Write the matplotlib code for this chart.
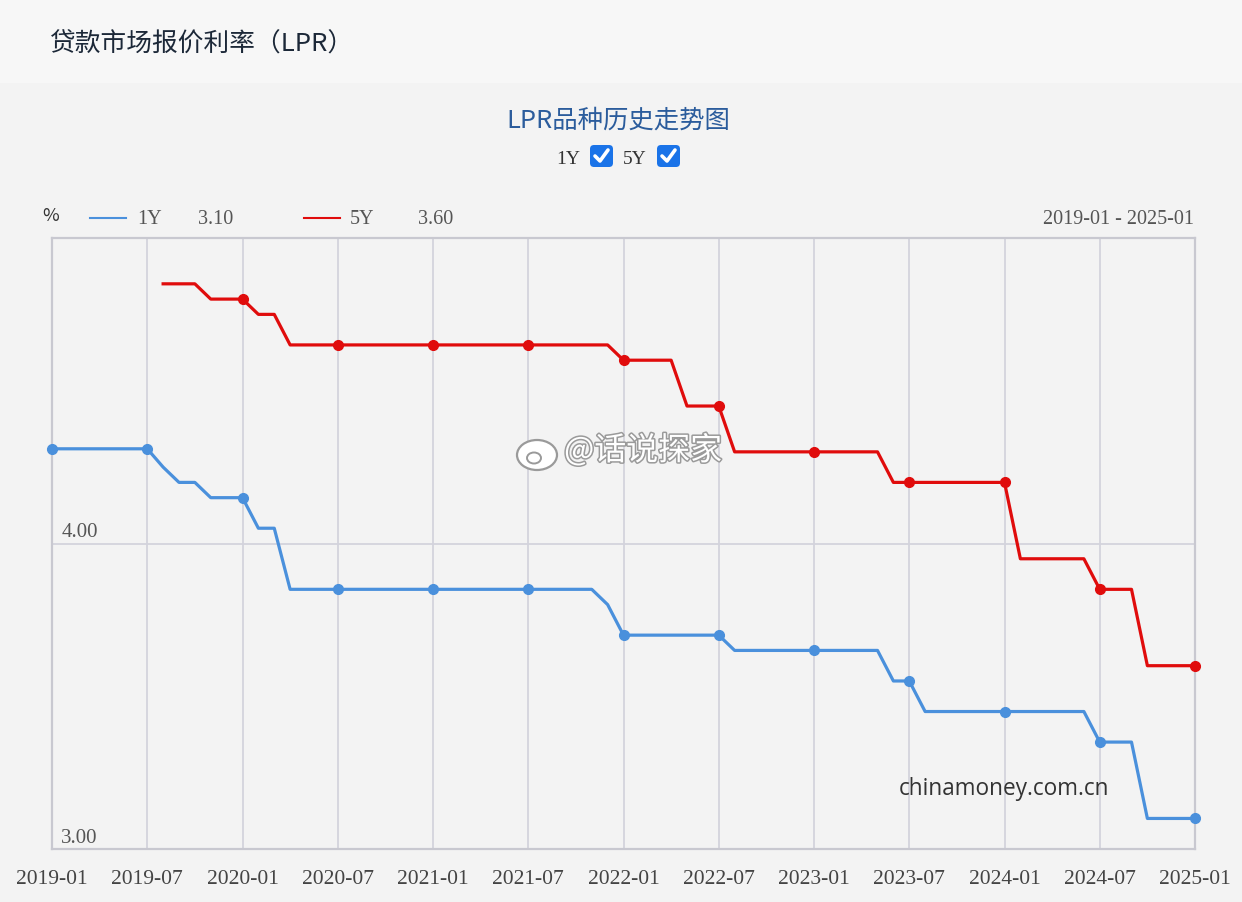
import matplotlib
matplotlib.use("Agg")
import matplotlib.pyplot as plt
import matplotlib.patheffects as pe
from matplotlib.patches import Rectangle, FancyBboxPatch, Ellipse
from matplotlib.lines import Line2D
from matplotlib.transforms import IdentityTransform
import numpy as np

plt.rcParams['font.family'] = ['Noto Sans CJK SC', 'DejaVu Sans']

# monthly LPR, 2019-01 .. 2025-01
months = []
for yr in range(2019, 2025):
    for m in range(1, 13):
        months.append(f"{yr}-{m:02d}")
months.append("2025-01")

lpr_1y = [
    4.31, 4.31, 4.31, 4.31, 4.31, 4.31, 4.31, 4.25, 4.20, 4.20, 4.15, 4.15,  # 2019
    4.15, 4.05, 4.05, 3.85, 3.85, 3.85, 3.85, 3.85, 3.85, 3.85, 3.85, 3.85,  # 2020
    3.85, 3.85, 3.85, 3.85, 3.85, 3.85, 3.85, 3.85, 3.85, 3.85, 3.85, 3.80,  # 2021
    3.70, 3.70, 3.70, 3.70, 3.70, 3.70, 3.70, 3.65, 3.65, 3.65, 3.65, 3.65,  # 2022
    3.65, 3.65, 3.65, 3.65, 3.65, 3.55, 3.55, 3.45, 3.45, 3.45, 3.45, 3.45,  # 2023
    3.45, 3.45, 3.45, 3.45, 3.45, 3.45, 3.35, 3.35, 3.35, 3.10, 3.10, 3.10,  # 2024
    3.10,                                                                    # 2025
]
lpr_5y = [
    None, None, None, None, None, None, None, 4.85, 4.85, 4.85, 4.80, 4.80,  # 2019
    4.80, 4.75, 4.75, 4.65, 4.65, 4.65, 4.65, 4.65, 4.65, 4.65, 4.65, 4.65,  # 2020
    4.65, 4.65, 4.65, 4.65, 4.65, 4.65, 4.65, 4.65, 4.65, 4.65, 4.65, 4.65,  # 2021
    4.60, 4.60, 4.60, 4.60, 4.45, 4.45, 4.45, 4.30, 4.30, 4.30, 4.30, 4.30,  # 2022
    4.30, 4.30, 4.30, 4.30, 4.30, 4.20, 4.20, 4.20, 4.20, 4.20, 4.20, 4.20,  # 2023
    4.20, 3.95, 3.95, 3.95, 3.95, 3.95, 3.85, 3.85, 3.85, 3.60, 3.60, 3.60,  # 2024
    3.60,                                                                    # 2025
]

W, H = 1242, 902
BLUE = '#4a90dc'
RED = '#e00c0c'
SERIF = ['Liberation Serif', 'Noto Sans CJK SC']

fig = plt.figure(figsize=(W / 100, H / 100), dpi=100)
fig.patch.set_facecolor('#f3f3f3')


def fx(px):
    return px / W


def fy(py):
    return 1 - py / H


# header strip
fig.add_artist(Rectangle((0, fy(83)), 1, 83 / H, transform=fig.transFigure,
                         facecolor='#f7f7f7', edgecolor='none', zorder=0))
fig.text(fx(50), fy(45), '贷款市场报价利率（LPR）', fontsize=18.5, color='#1c2838',
         va='center', ha='left')

fig.text(fx(618), fy(121), 'LPR品种历史走势图', fontsize=18.3, color='#2b5c9c',
         va='center', ha='center')

# check boxes
fig.text(fx(568), fy(159), '1Y', fontsize=14, color='#333333', va='center',
         ha='center', family=SERIF)
fig.text(fx(635), fy(159), '5Y', fontsize=14, color='#333333', va='center',
         ha='center', family=SERIF)
for bx in (590, 657):
    fig.add_artist(FancyBboxPatch((bx, H - 167), 23, 22,
                                  boxstyle='round,pad=0,rounding_size=4',
                                  transform=IdentityTransform(),
                                  facecolor='#1a73e8', edgecolor='none'))
    fig.add_artist(Line2D([bx + 5, bx + 10, bx + 18], [H - 156, H - 161, H - 150],
                          transform=IdentityTransform(), color='white', lw=2.6,
                          solid_capstyle='round', solid_joinstyle='round'))

# legend row
fig.text(fx(51), fy(216), '%', fontsize=13, color='#333333', va='center', ha='center')
fig.add_artist(Line2D([fx(90), fx(126)], [fy(218), fy(218)], color=BLUE, lw=1.5,
                      transform=fig.transFigure))
fig.text(fx(137), fy(219), '1Y', fontsize=14.5, color='#555555', va='center',
         family=SERIF)
fig.text(fx(198), fy(219), f'{lpr_1y[-1]:.2f}', fontsize=14.5, color='#555555',
         va='center', family=SERIF)
fig.add_artist(Line2D([fx(304), fx(340)], [fy(218), fy(218)], color=RED, lw=1.5,
                      transform=fig.transFigure))
fig.text(fx(350), fy(219), '5Y', fontsize=14.5, color='#555555', va='center',
         family=SERIF)
fig.text(fx(418), fy(219), f'{lpr_5y[-1]:.2f}', fontsize=14.5, color='#555555',
         va='center', family=SERIF)
fig.text(fx(1194), fy(219), f'{months[0]} - {months[-1]}', fontsize=14.5,
         color='#555555', va='center', ha='right', family=SERIF)

# plot area
ax = fig.add_axes([fx(52), fy(849), fx(1195) - fx(52), (849 - 238) / H])
ax.set_facecolor('#f3f3f3')
x = np.arange(len(months))
y1 = np.array(lpr_1y, dtype=float)
y5 = np.array([np.nan if v is None else v for v in lpr_5y], dtype=float)

tick_idx = [i for i, m in enumerate(months) if m.endswith('-01') or m.endswith('-07')]

ax.plot(x, y1, color=BLUE, lw=2.3, marker='o', markersize=7, markevery=tick_idx,
        zorder=3, clip_on=False)
ax.plot(x, y5, color=RED, lw=2.3, marker='o', markersize=7,
        markevery=[i for i in tick_idx if not np.isnan(y5[i])], zorder=3, clip_on=False)

ax.set_xlim(0, len(months) - 1)
ax.set_ylim(3.0, 5.0)
ax.set_xticks(tick_idx)
ax.set_xticklabels([months[i] for i in tick_idx], family=SERIF, fontsize=15.5,
                   color='#444444')
ax.set_yticks([4.0])
ax.set_yticklabels([])
ax.tick_params(axis='both', length=0, pad=15)
ax.grid(True, color='#d3d3dc', lw=1.3)
for s in ax.spines.values():
    s.set_color('#c8c8d0')
    s.set_linewidth(1.6)

for yv in (4.0, 3.0):
    ax.text(0.008, yv + 0.035, f'{yv:.2f}', transform=ax.get_yaxis_transform(),
            fontsize=15, color='#555555', va='center', ha='left', family=SERIF)

# watermarks
ax.text(0.448, 0.652, '@话说探家', transform=ax.transAxes, fontsize=23,
        color='white', va='center', ha='left', zorder=4,
        path_effects=[pe.withStroke(linewidth=2.2, foreground='#9a9a9a')])
fig.add_artist(Ellipse((fx(537), fy(455)), 40 / W, 30 / H, transform=fig.transFigure,
                       facecolor='white', edgecolor='#9a9a9a', lw=1.6, zorder=5))
fig.add_artist(Ellipse((fx(534), fy(458)), 14 / W, 11 / H, transform=fig.transFigure,
                       facecolor='none', edgecolor='#9a9a9a', lw=1.4, zorder=6))
ax.text(0.741, 0.099, 'chinamoney.com.cn', transform=ax.transAxes, fontsize=16.3,
        family=['Open Sans', 'DejaVu Sans'], color='#333333', va='center', ha='left',
        zorder=4)

fig.savefig('out.png', dpi=100, facecolor=fig.get_facecolor())
